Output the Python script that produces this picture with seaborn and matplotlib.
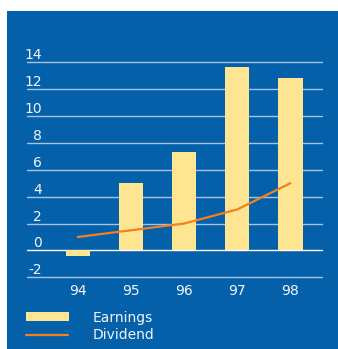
import matplotlib
matplotlib.use("Agg")
import matplotlib.pyplot as plt
from matplotlib.patches import Rectangle
from matplotlib.lines import Line2D
import matplotlib.transforms as mtransforms
import numpy as np
import pandas as pd
import seaborn as sns

years = ["94", "95", "96", "97", "98"]
earnings = [-0.45, 5.0, 7.3, 13.65, 12.8]
dividend = [1.0, 1.5, 2.0, 3.05, 5.0]
y_ticks = [-2, 0, 2, 4, 6, 8, 10, 12, 14]
legend_labels = ["Earnings", "Dividend"]

BLUE = "#0560AA"
BAR = "#FEE591"
ORANGE = "#F3801E"
GRID = "#A3C4E6"
TEXT = "#F2F6FB"

sns.set_theme(style="white")
plt.rcParams["font.family"] = ["DejaVu Sans"]

W, H = 338, 349
fig = plt.figure(figsize=(W / 100, H / 100), dpi=100, facecolor="white")


def fx(px):
    return px / W


def fy(py):
    return 1 - py / H


# blue panel
fig.add_artist(Rectangle((fx(7), 0), 1 - fx(7), fy(11), transform=fig.transFigure,
                         facecolor=BLUE, edgecolor="none", zorder=0))

left, right, top, bottom = 26.7, 322.3, 62.3, 277.3
ax = fig.add_axes([fx(left), fy(bottom), fx(right) - fx(left), (bottom - top) / H])
ax.set_facecolor("none")

df = pd.DataFrame({"year": years, "earnings": earnings, "dividend": dividend,
                   "pos": np.arange(len(years))})

for v in y_ticks:
    ax.axhline(v, color="white" if v == 0 else GRID, lw=1.0, clip_on=False, zorder=1)

sns.barplot(data=df, x="year", y="earnings", color=BAR, width=0.46,
            saturation=1, linewidth=0, edgecolor="none", ax=ax, zorder=2)
sns.lineplot(data=df, x="pos", y="dividend", color=ORANGE, lw=1.6, ax=ax, zorder=3)

ax.set_xlim(-0.96, 4.6)
ax.set_ylim(-2, 14)
ax.set_xticks([])
ax.set_yticks([])
ax.set_xlabel("")
ax.set_ylabel("")
for s in ax.spines.values():
    s.set_visible(False)

fs = 10
# value labels sit just above their gridline, right-aligned
lab_tr = mtransforms.offset_copy(ax.get_yaxis_transform(), fig=fig, x=15.3, y=3.0, units="dots")
for v in y_ticks:
    ax.text(0, v, str(v), transform=lab_tr, ha="right", va="baseline",
            color=TEXT, fontsize=fs)

x_tr = mtransforms.offset_copy(ax.transData, fig=fig, x=0, y=-13.4, units="dots")
for i, yr in enumerate(years):
    ax.text(i, -2, yr, transform=x_tr, ha="center", va="center", color=TEXT, fontsize=fs)

# legend
fig.add_artist(Rectangle((fx(26), fy(320.7)), fx(69) - fx(26), (320.7 - 311.7) / H,
                         transform=fig.transFigure, facecolor=BAR, edgecolor="none"))
fig.add_artist(Line2D([fx(26), fx(68)], [fy(334.7), fy(334.7)], transform=fig.transFigure,
                      color=ORANGE, lw=1.6))
fig.text(fx(92.5), fy(321.7), legend_labels[0], ha="left", va="baseline", color=TEXT, fontsize=fs)
fig.text(fx(92.5), fy(338.7), legend_labels[1], ha="left", va="baseline", color=TEXT, fontsize=fs)

fig.savefig("out.png", dpi=100, facecolor="white")
